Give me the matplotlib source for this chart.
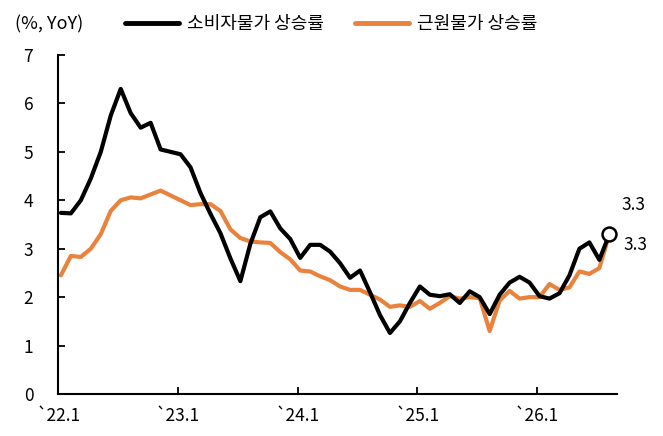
import numpy as np
import matplotlib
matplotlib.use('Agg')
import matplotlib.pyplot as plt
from matplotlib.lines import Line2D

plt.rcParams['font.family'] = ['Noto Sans CJK KR', 'DejaVu Sans']

# monthly YoY, '22.1 onwards
cpi = [3.74, 3.73, 4.0, 4.45, 5.0, 5.75, 6.3, 5.8, 5.5, 5.6, 5.05, 5.0,
       4.95, 4.68, 4.15, 3.72, 3.32, 2.8, 2.33, 3.1, 3.65, 3.77, 3.42, 3.2,
       2.81, 3.08, 3.08, 2.94, 2.7, 2.4, 2.55, 2.1, 1.63, 1.26, 1.5, 1.88,
       2.22, 2.05, 2.02, 2.06, 1.88, 2.12, 2.0, 1.65, 2.05, 2.3, 2.42, 2.3,
       2.02, 1.97, 2.08, 2.45, 3.0, 3.13, 2.77, 3.3]
core = [2.45, 2.85, 2.83, 3.0, 3.3, 3.78, 4.0, 4.06, 4.04, 4.12, 4.2, 4.1,
        4.0, 3.9, 3.92, 3.92, 3.78, 3.4, 3.22, 3.15, 3.13, 3.12, 2.93, 2.78,
        2.55, 2.53, 2.43, 2.35, 2.22, 2.15, 2.15, 2.05, 1.95, 1.8, 1.83, 1.8,
        1.92, 1.76, 1.88, 2.02, 1.97, 2.0, 1.98, 1.3, 1.93, 2.13, 1.97, 2.0,
        2.0, 2.27, 2.15, 2.2, 2.53, 2.48, 2.6, 3.3]
tick_labels = ['`22.1', '`23.1', '`24.1', '`25.1', '`26.1']
last_cpi_label = '3.3'
last_core_label = '3.3'

orange = '#E8823C'
x = np.arange(len(cpi))

fig = plt.figure(figsize=(6.63, 4.36), dpi=100)
ax = fig.add_axes([58.3 / 663, 42 / 436, 559 / 663, 339 / 436])

ax.plot(x, core, color=orange, lw=3.0, solid_joinstyle='round', solid_capstyle='round', zorder=2)
ax.plot(x, cpi, color='black', lw=3.0, solid_joinstyle='round', solid_capstyle='round', zorder=3)
ax.plot(x[-1], cpi[-1], 'o', ms=10, mfc='white', mec='black', mew=1.8, zorder=4)

ax.annotate(last_cpi_label, (x[-1], cpi[-1]), xytext=(9, 21), textcoords='offset points',
            fontsize=12.5, va='center', ha='left')
ax.annotate(last_core_label, (x[-1], core[-1]), xytext=(10, -8), textcoords='offset points',
            fontsize=12.5, va='center', ha='left')

ax.set_xlim(-0.26, 55.8)
ax.set_ylim(0, 7)
ax.set_xticks([12 * k - 0.26 for k in range(len(tick_labels))])
ax.set_xticklabels(tick_labels)
ax.set_yticks(range(8))

for s in ['top', 'right']:
    ax.spines[s].set_visible(False)
for s in ['left', 'bottom']:
    ax.spines[s].set_linewidth(1.5)
ax.tick_params(direction='in', length=5, width=1.3, labelsize=12.5, colors='black')
ax.tick_params(axis='x', pad=9)
ax.tick_params(axis='y', pad=18)

fig.text(15 / 663, 1 - 24 / 436, '(%, YoY)', fontsize=13, va='center', ha='left')
handles = [Line2D([], [], color='black', lw=3.5, solid_capstyle='round'),
           Line2D([], [], color=orange, lw=3.5, solid_capstyle='round')]
fig.legend(handles, ['소비자물가 상승률', '근원물가 상승률'], loc='center left',
           bbox_to_anchor=(125 / 663, 1 - 24 / 436), ncol=2, frameon=False,
           fontsize=13, handlelength=3.0, handletextpad=0.45, columnspacing=1.7,
           borderpad=0, borderaxespad=0)

fig.savefig('out.png', dpi=100)
